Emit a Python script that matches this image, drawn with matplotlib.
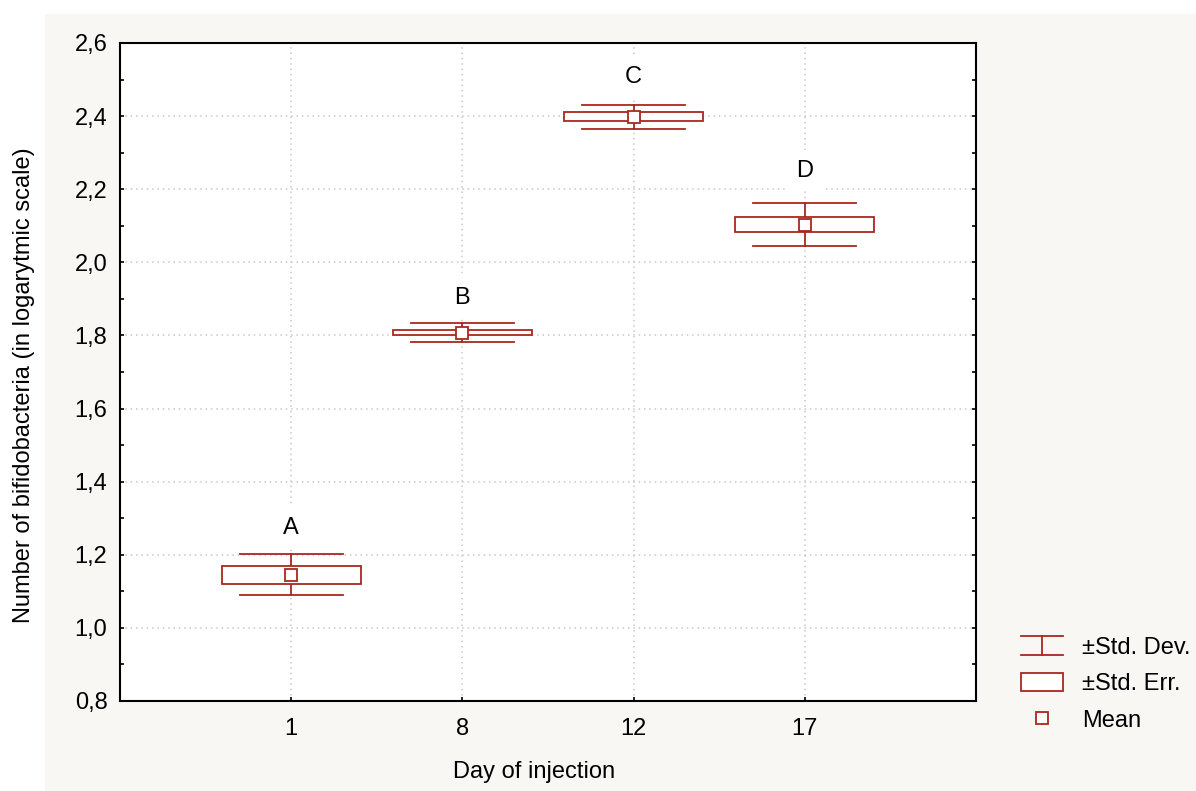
import numpy as np
import matplotlib
matplotlib.use("Agg")
import matplotlib.pyplot as plt
from matplotlib.lines import Line2D
from matplotlib.patches import Rectangle
from matplotlib.legend_handler import HandlerBase

plt.rcParams['font.family'] = ['Liberation Sans', 'DejaVu Sans']

# data
days = ["1", "8", "12", "17"]
means = [1.145, 1.808, 2.398, 2.103]
std_err = [0.025, 0.007, 0.012, 0.021]
std_dev = [0.056, 0.025, 0.033, 0.058]
letters = ["A", "B", "C", "D"]
letter_y = [1.273, 1.902, 2.508, 2.251]
yticks = [0.8, 1.0, 1.2, 1.4, 1.6, 1.8, 2.0, 2.2, 2.4, 2.6]

red = '#a8281e'
beige = '#f9f7f3'
lw = 1.3
fs = 17

fig = plt.figure(figsize=(11.96, 7.91), dpi=100)
fig.patch.set_facecolor('white')
fig.patches.append(Rectangle((45 / 1196, 0), 1 - 45 / 1196, 1 - 14 / 791,
                             transform=fig.transFigure, facecolor=beige,
                             edgecolor='none', zorder=-10))

ax = fig.add_axes([120 / 1196, 1 - 701 / 791, (976 - 120) / 1196, (701 - 43) / 791])
ax.set_facecolor('white')

x = np.arange(1, len(days) + 1)
box_hw = 0.405
cap_hw = 0.30
for xi, m, se, sd in zip(x, means, std_err, std_dev):
    # whiskers (std dev)
    ax.plot([xi, xi], [m + se, m + sd], color=red, lw=lw, zorder=3)
    ax.plot([xi, xi], [m - se, m - sd], color=red, lw=lw, zorder=3)
    ax.plot([xi - cap_hw, xi + cap_hw], [m + sd, m + sd], color=red, lw=lw, zorder=3)
    ax.plot([xi - cap_hw, xi + cap_hw], [m - sd, m - sd], color=red, lw=lw, zorder=3)
    # box (std err)
    ax.add_patch(Rectangle((xi - box_hw, m - se), 2 * box_hw, 2 * se,
                           facecolor='white', edgecolor=red, lw=lw, zorder=3))
ax.plot(x, means, linestyle='none', marker='s', markersize=9,
        markerfacecolor='white', markeredgecolor=red, markeredgewidth=1.3, zorder=4)

for xi, lab, ly in zip(x, letters, letter_y):
    ax.text(xi, ly, lab, ha='center', va='center', fontsize=fs, zorder=5,
            bbox=dict(facecolor='white', edgecolor='none', pad=7))

ax.set_xlim(0, 5)
ax.set_ylim(0.8, 2.6)
ax.set_xticks(x)
ax.set_xticklabels(days, fontsize=fs)
ax.set_yticks(yticks)
ax.set_yticklabels([f"{v:.1f}".replace('.', ',') for v in yticks], fontsize=fs)
ax.set_yticks(np.arange(0.9, 2.6, 0.2), minor=True)
ax.tick_params(axis='y', which='both', direction='in', length=3, width=1.2,
               left=True, right=True, pad=9)
ax.tick_params(axis='x', direction='in', length=3, width=1.2, pad=12)
ax.grid(True, which='major', color='#c8c8c8', linestyle=(0, (1, 2.5)), lw=1.1, zorder=0)
ax.set_axisbelow(True)
for s in ax.spines.values():
    s.set_linewidth(1.5)
    s.set_color('black')

ax.set_xlabel("Day of injection", fontsize=fs, va='center')
ax.xaxis.set_label_coords((534 - 120) / 856, (701 - 772) / 658)
ax.set_ylabel("Number of bifidobacteria (in logarytmic scale)", fontsize=fs, va='center')
ax.yaxis.set_label_coords((24 - 120) / 856, (701 - 385) / 658)


class HandlerSD(HandlerBase):
    def create_artists(self, legend, orig_handle, xdescent, ydescent,
                       width, height, fontsize, trans):
        x0, x1 = -xdescent, -xdescent + width
        y0, y1 = -ydescent, -ydescent + height
        xm = (x0 + x1) / 2
        arts = [Line2D([x0, x1], [y1, y1]), Line2D([x0, x1], [y0, y0]),
                Line2D([xm, xm], [y0, y1])]
        for a in arts:
            a.set_color(red)
            a.set_linewidth(lw)
            a.set_transform(trans)
        return arts


sd_handle = Line2D([], [])
se_handle = Rectangle((0, 0), 1, 1, facecolor='white', edgecolor=red, lw=lw)
mean_handle = Line2D([], [], linestyle='none', marker='s', markersize=9,
                     markerfacecolor='white', markeredgecolor=red, markeredgewidth=1.3)
fig.legend([sd_handle, se_handle, mean_handle], ["±Std. Dev.", "±Std. Err.", "Mean"],
           handler_map={sd_handle: HandlerSD()}, loc='lower left',
           bbox_to_anchor=(1021 / 1196, 1 - 732 / 791), frameon=False, fontsize=fs,
           handlelength=42 / (fs * 100 / 72), handleheight=20 / (fs * 100 / 72),
           handletextpad=19 / (fs * 100 / 72), labelspacing=0.6,
           borderpad=0, borderaxespad=0)

fig.savefig("out.png", dpi=100, facecolor=fig.get_facecolor())
